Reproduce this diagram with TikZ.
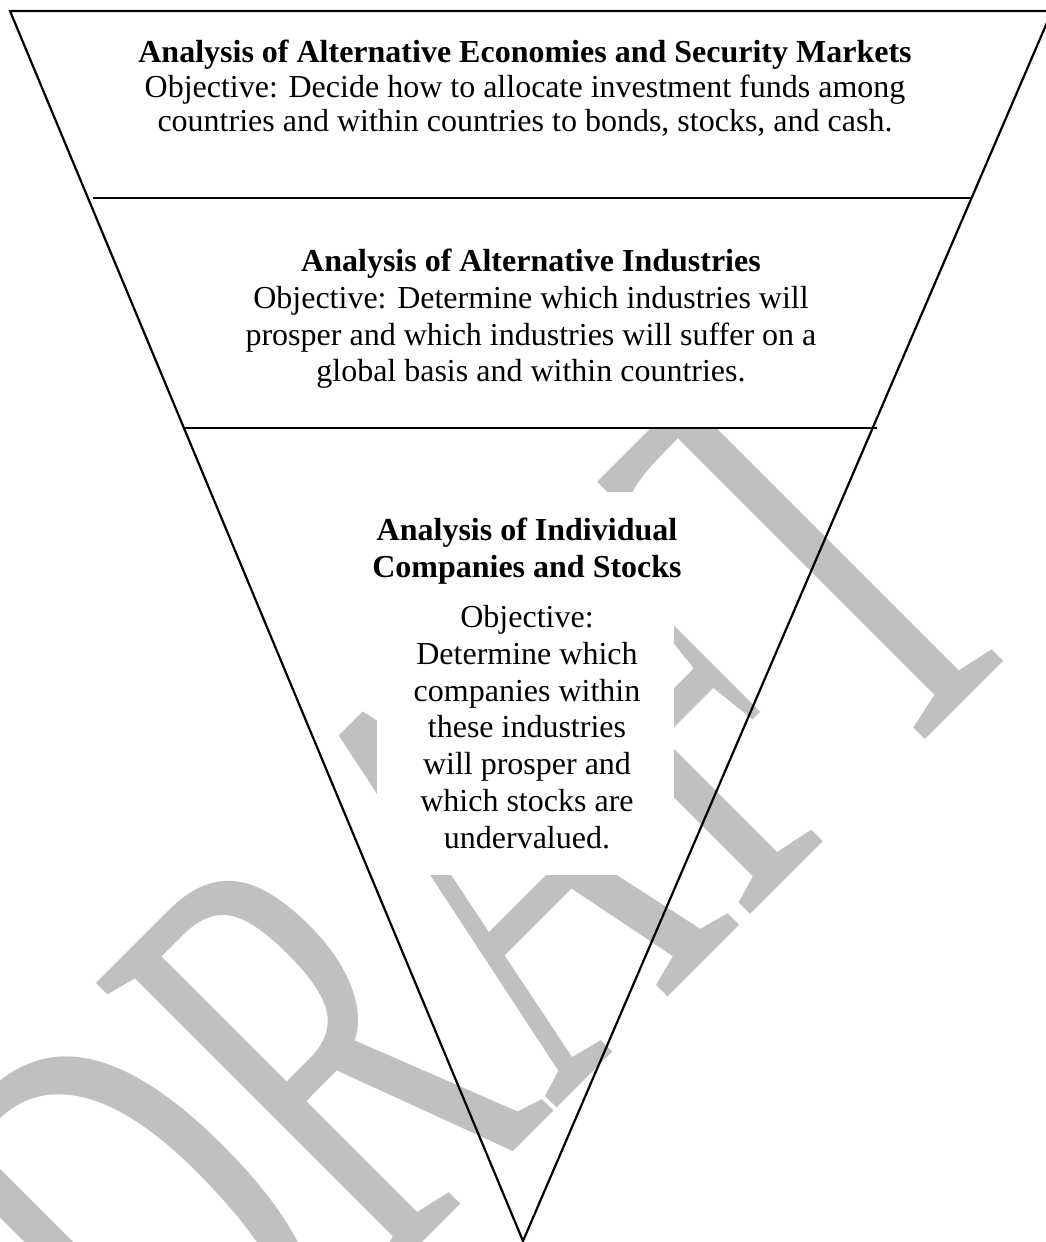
\documentclass[tikz,border=0pt]{standalone}
\usepackage{fontspec}
\setmainfont{Liberation Serif}
\definecolor{wmgray}{RGB}{192,192,192}
\tikzset{
  edge/.style={line width=2.2pt, line join=miter},
  divider/.style={line width=2.4pt},
  body/.style={font=\fontsize{32}{36.8}\selectfont, align=center, inner sep=0pt, anchor=north},
  head/.style={body, font=\fontsize{32}{36.8}\selectfont\bfseries},
  wmtext/.style={font=\fontsize{632}{700}\selectfont, text=wmgray, inner sep=0pt,
                 anchor=base, rotate=45, xscale=0.58}
}
\begin{document}
\begin{tikzpicture}[x=1pt, y=-1pt]
\useasboundingbox (0,0) rectangle (1046,1242);
\fill[white] (0,0) rectangle (1046,1242);

% corner points of the funnel
\coordinate (tl) at (10,11);
\coordinate (tr) at (1052,11);
\coordinate (ml) at (88,198);
\coordinate (mr) at (971,198);
\coordinate (mls) at (93,198);
\coordinate (ll) at (184,428);
\coordinate (lr) at (872,428);
\coordinate (lrx) at (877,428);
\coordinate (tip) at (523,1241);

% background watermark, stretched across the page
\node[wmtext] (draft) at (619.2,1045.8) {DRAFT};

% opaque upper bands
\fill[white] (tl) -- (tr) -- (mr) -- (ml) -- cycle;
\fill[white] (ml) -- (mr) -- (lr) -- (ll) -- cycle;
% opaque text box in the lowest band
\fill[white] (377,492) rectangle (674,875);

% texts
\node[head] (t1) at (525,40) {Analysis of Alternative Economies and Security Markets};
\node[body, font=\fontsize{32}{34.5}\selectfont] (o1) at (525,74.5) {Objective: Decide how to allocate investment funds among\\countries and within countries to bonds, stocks, and cash.};

\node[head] (t2) at (531,249) {Analysis of Alternative Industries};
\node[body] (o2) at (531,285.8) {Objective: Determine which industries will\\prosper and which industries will suffer on a\\global basis and within countries.};

\node[head] (t3) at (527,518) {Analysis of Individual\\Companies and Stocks};
\node[body] (o3) at (527,605) {Objective:\\Determine which\\companies within\\these industries\\will prosper and\\which stocks are\\undervalued.};

% outline and dividers
\draw[edge] (tr) -- (tl) -- (tip) -- cycle;
\draw[divider] (mls) -- (mr);
\draw[divider] (ll) -- (lrx);
\end{tikzpicture}
\end{document}
